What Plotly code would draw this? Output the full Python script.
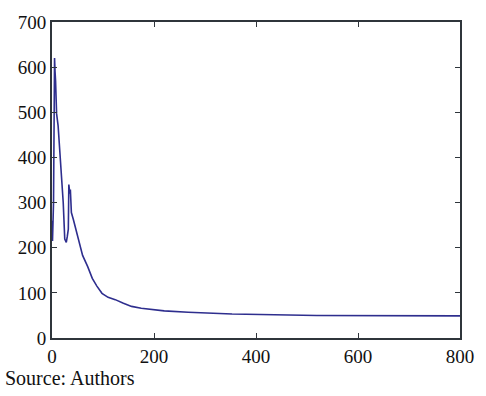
import plotly.graph_objects as go

x_vals = [0, 1, 3, 5, 6, 7, 8, 9, 12, 15, 18, 22, 25, 28, 30, 32, 33, 35, 36, 38, 42, 47, 53, 60, 70, 79, 88, 98, 110, 124, 140, 156, 175, 194, 220, 267, 353, 519, 800]
y_vals = [260, 215, 300, 620, 590, 570, 520, 497, 470, 424, 380, 300, 219, 212, 225, 241, 340, 320, 329, 278, 262, 241, 215, 183, 158, 132, 115, 99, 90, 85, 77, 70, 66, 63, 60, 57, 53, 50, 49]
x_ticks = [0, 200, 400, 600, 800]
y_ticks = [0, 100, 200, 300, 400, 500, 600, 700]

FONT = "Liberation Serif, Times New Roman, serif"
AX = "#2f353b"

fig = go.Figure()
fig.add_trace(go.Scatter(x=x_vals, y=y_vals, mode="lines",
                         line=dict(color="#2e2e8e", width=1.6),
                         showlegend=False, hoverinfo="skip"))

axis_common = dict(showgrid=False, zeroline=False, showline=True, linecolor=AX,
                   linewidth=2, mirror="allticks", ticks="inside", ticklen=5,
                   tickcolor=AX, tickwidth=1,
                   tickfont=dict(family=FONT, size=19, color="#111111"))
fig.update_xaxes(range=[0, 800], tickvals=x_ticks, **axis_common)
fig.update_yaxes(range=[0, 700], tickvals=y_ticks, **axis_common)

fig.add_annotation(text="Source: Authors", xref="paper", yref="paper",
                   x=-0.12, y=-0.125, xanchor="left", yanchor="middle",
                   showarrow=False, font=dict(family=FONT, size=20, color="#111111"))

fig.update_layout(width=486, height=396, margin=dict(l=52, r=17, t=19, b=58),
                  plot_bgcolor="white", paper_bgcolor="white")
fig.write_html("out.html")
